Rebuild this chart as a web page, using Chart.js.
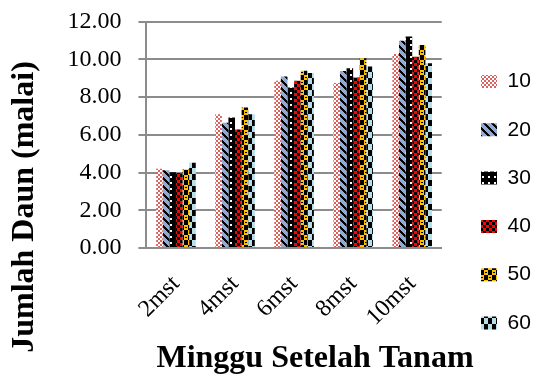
<!DOCTYPE html>
<html>
<head>
<meta charset="utf-8">
<script src="https://cdn.jsdelivr.net/npm/chart.js@4.4.1/dist/chart.umd.min.js"></script>
<style>
  html, body { margin: 0; padding: 0; background: #fff; }
</style>
</head>
<body>
<canvas id="chart" width="534" height="376"></canvas>
<script>
const weeks = ['2mst', '4mst', '6mst', '8mst', '10mst'];
const doses = ['10', '20', '30', '40', '50', '60'];

const dose10 = [4.20, 7.09, 8.87, 8.75, 10.29];
const dose20 = [4.12, 6.65, 9.10, 9.39, 10.99];
const dose30 = [4.02, 6.92, 8.52, 9.53, 11.22];
const dose40 = [3.98, 6.29, 8.87, 9.05, 10.15];
const dose50 = [4.16, 7.45, 9.40, 10.06, 10.77];
const dose60 = [4.52, 7.09, 9.28, 9.63, 9.80];

const yTicks = [0, 2, 4, 6, 8, 10, 12];
const xTitle = 'Minggu Setelah Tanam';
const yTitle = 'Jumlah Daun (malai)';

const canvas = document.getElementById('chart');
const ctx = canvas.getContext('2d');

// small repeating tiles that mimic the Excel fill patterns
function tile(w, h, paint) {
  const c = document.createElement('canvas');
  c.width = w;
  c.height = h;
  paint(c.getContext('2d'));
  return ctx.createPattern(c, 'repeat');
}

const fills = [
  tile(4, 4, g => {
    g.fillStyle = '#fff'; g.fillRect(0, 0, 4, 4);
    g.fillStyle = '#d9625e'; g.fillRect(0, 0, 2, 2); g.fillRect(2, 2, 2, 2);
  }),
  tile(8, 8, g => {
    g.fillStyle = '#8eaadb'; g.fillRect(0, 0, 8, 8);
    g.fillStyle = '#000';
    for (let y = 0; y < 8; y++) {
      for (let x = 0; x < 8; x++) {
        if (((x - y) % 8 + 8) % 8 < 3) g.fillRect(x, y, 1, 1);
      }
    }
  }),
  tile(6, 6, g => {
    g.fillStyle = '#000'; g.fillRect(0, 0, 6, 6);
    g.fillStyle = '#fff'; g.fillRect(2, 2, 2, 2);
  }),
  tile(6, 6, g => {
    g.fillStyle = '#ff0000'; g.fillRect(0, 0, 6, 6);
    g.fillStyle = '#000'; g.fillRect(0, 0, 3, 3); g.fillRect(3, 3, 3, 3);
  }),
  tile(8, 10, g => {
    g.fillStyle = '#000'; g.fillRect(0, 0, 8, 10);
    g.fillStyle = '#ffc000'; g.fillRect(4, 0, 4, 5); g.fillRect(0, 5, 4, 5);
    g.fillStyle = '#000'; g.fillRect(1, 7, 2, 1); g.fillRect(5, 2, 2, 1);
  }),
  tile(8, 12, g => {
    g.fillStyle = '#b7dee8'; g.fillRect(0, 0, 8, 12);
    g.fillStyle = '#000'; g.fillRect(4, 0, 4, 6); g.fillRect(0, 6, 4, 6);
  })
];

const series = [dose10, dose20, dose30, dose40, dose50, dose60];

// where Excel put the plot area and its free-floating texts
const area = { left: 150, right: 440, top: 23, bottom: 248 };
const spot = { yTitleX: 25, yTitleY: 207, xTitleX: 315, xTitleY: 358.5, legendX: 481, legendY: 71 };
const legendPad = 27.3;

const nudge = {
  id: 'nudge',
  afterLayout(chart) {
    const shift = (box, dx, dy) => {
      if (!box) return;
      box.left += dx; box.right += dx;
      box.top += dy; box.bottom += dy;
    };
    const lg = chart.legend;
    shift(lg, spot.legendX - (lg.left + legendPad), spot.legendY - (lg.top + legendPad));
    const xt = chart.titleBlock;
    shift(xt, spot.xTitleX - (xt.left + xt.right) / 2, spot.xTitleY - (xt.top + xt.bottom) / 2);
    const yt = chart.boxes.find(b => b !== xt && b.options && b.options.text === yTitle);
    if (yt) shift(yt, spot.yTitleX - (yt.left + yt.right) / 2, spot.yTitleY - (yt.top + yt.bottom) / 2);
  }
};

const chart = new Chart(ctx, {
  type: 'bar',
  data: {
    labels: weeks,
    datasets: doses.map((d, i) => ({
      label: d,
      data: series[i],
      backgroundColor: fills[i],
      borderWidth: 0,
      barPercentage: 1,
      categoryPercentage: 0.67
    }))
  },
  plugins: [nudge],
  options: {
    responsive: false,
    animation: false,
    layout: { padding: { top: 0, right: 0, bottom: 0, left: 0 } },
    plugins: {
      tooltip: { enabled: false },
      legend: {
        position: 'right',
        align: 'start',
        labels: {
          color: '#000',
          font: { family: 'Liberation Sans', size: 21 },
          boxWidth: 16,
          boxHeight: 13,
          padding: legendPad
        }
      },
      title: {
        display: true,
        text: xTitle,
        position: 'bottom',
        color: '#000',
        font: { family: 'Liberation Serif', size: 32, weight: 'bold', lineHeight: 0.5 },
        padding: 0
      },
      subtitle: {
        display: true,
        text: yTitle,
        position: 'left',
        color: '#000',
        font: { family: 'Liberation Serif', size: 32, weight: 'bold', lineHeight: 1.2 },
        padding: { top: 4, bottom: 4 }
      }
    },
    scales: {
      x: {
        grid: { display: false, drawTicks: false },
        border: { display: true, color: '#8c8c8c', width: 2 },
        ticks: {
          color: '#000',
          font: { family: 'Liberation Serif', size: 24 },
          minRotation: 45,
          maxRotation: 45,
          autoSkip: false,
          padding: 22
        }
      },
      y: {
        min: 0,
        max: 12,
        afterBuildTicks: axis => { axis.ticks = yTicks.map(v => ({ value: v })); },
        grid: { color: '#8c8c8c', lineWidth: 2, tickLength: 8 },
        border: { display: true, color: '#8c8c8c', width: 2 },
        ticks: {
          color: '#000',
          font: { family: 'Liberation Serif', size: 24, lineHeight: 0.4 },
          padding: 17,
          callback: v => Number(v).toFixed(2)
        }
      }
    }
  }
});

// second pass: pad the layout so the plot area lands where Excel drew it
const got = chart.chartArea;
const pad = chart.options.layout.padding;
pad.left = Math.max(0, area.left - got.left);
pad.right = Math.max(0, got.right - area.right);
pad.top = Math.max(0, area.top - got.top);
pad.bottom = Math.max(0, got.bottom - area.bottom);
chart.update();
</script>
</body>
</html>
